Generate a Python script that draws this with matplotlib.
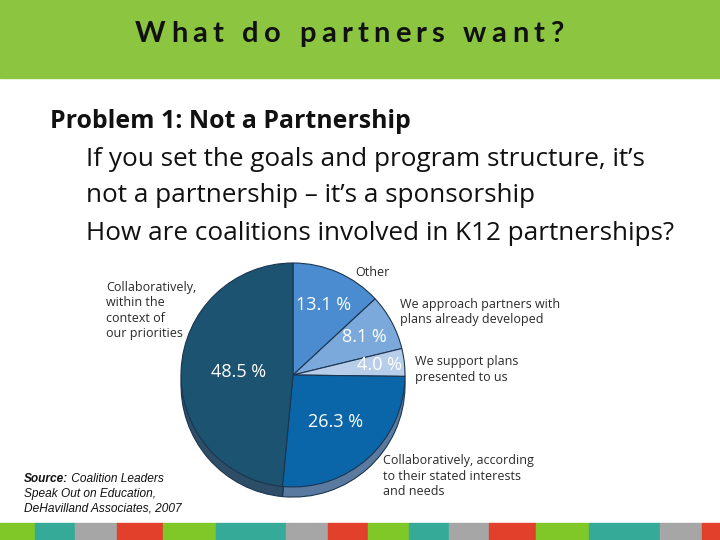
"""
Recreate the 'What do partners want?' slide with the coalition pie chart
"""

import matplotlib
matplotlib.use('Agg')
import matplotlib.pyplot as plt
import numpy as np

#---------------------------------------------------------------------------------------------------
# Data
#---------------------------------------------------------------------------------------------------

title = 'What do partners want?'
body_head = 'Problem 1: Not a Partnership'
body_lines = ["If you set the goals and program structure, it\u2019s",
              "not a partnership \u2013 it\u2019s a sponsorship",
              "How are coalitions involved in K12 partnerships?"]

# Pie slices, clockwise from the top
slice_names = ['Other',
               'We approach partners with\nplans already developed',
               'We support plans\npresented to us',
               'Collaboratively, according\nto their stated interests\nand needs',
               'Collaboratively,\nwithin the\ncontext of\nour priorities']
slice_pct = [13.1, 8.1, 4.0, 26.3, 48.5]

source_bold = 'Source:'
source_lines = [' Coalition Leaders', 'Speak Out on Education,', 'DeHavilland Associates, 2007']

#---------------------------------------------------------------------------------------------------
# Styles
#---------------------------------------------------------------------------------------------------

top_colors = ['#4a8ccf', '#7ba9dc', '#b7cde9', '#0a66a8', '#1b5370']
side_colors = ['#3a6c9c', '#5c82aa', '#8ba0bb', '#5a7aa0', '#2d4e66']
pct_radius = [0.68, 0.72, 0.78, 0.57, 0.49]

green = '#8cc640'
stripe_edges = [0, 35, 75, 117, 163, 216, 286, 328, 368, 409, 449, 489, 536, 589, 660, 702, 720]
stripe_cols = ['#80c828', '#36aa98', '#a6a6a6', '#e2402a']

body_font = 'Open Sans'
label_font = 'Open Sans'
body_y = [160, 195, 233]

#---------------------------------------------------------------------------------------------------
# Make Plot
#---------------------------------------------------------------------------------------------------

fig = plt.figure(figsize=(7.2, 5.4), dpi=100)
renderer = fig.canvas.get_renderer()

# Background axes in pixel coordinates
bg = fig.add_axes([0, 0, 1, 1])
bg.set_xlim(0, 720)
bg.set_ylim(540, 0)
bg.axis('off')


def text_width(t):
    """Width of a text artist in pixels"""
    return t.get_window_extent(renderer=renderer).width


# Header band and letter-spaced title (spans x = 135 to 563)
bg.add_patch(plt.Rectangle((0, 0), 720, 78, color=green, zorder=0))
chars = [bg.text(0, 34, c, ha='left', va='center', fontsize=21, fontweight='bold',
                 family='Lato', color='#111111') for c in title]
widths = [text_width(c) if c.get_text() != ' ' else 8 for c in chars]
track = (563 - 135 - sum(widths)) / (len(chars) - 1)
x = 135
for c, w in zip(chars, widths):
    c.set_x(x)
    x += w + track

# Body text
bg.text(50, 122, body_head, ha='left', va='center', fontsize=17.9, fontweight='bold',
        family=body_font, color='#111111')
for line, y in zip(body_lines, body_y):
    bg.text(86, y, line, ha='left', va='center', fontsize=18.8,
            family=body_font, color='#111111')

# Bottom stripe
for i in range(len(stripe_edges) - 1):
    bg.add_patch(plt.Rectangle((stripe_edges[i], 523), stripe_edges[i+1] - stripe_edges[i], 17,
                               color=stripe_cols[i % 4], zorder=0))

# Pie axes: radius 1 = 112 px, centred at (293, 375)
pax = fig.add_axes([153/720, 25/540, 280/720, 280/540])

# 3D side of the pie
pax.pie(slice_pct, colors=side_colors, startangle=90, counterclock=False, radius=1.0,
        center=(0, -0.09), wedgeprops=dict(edgecolor='#1c3550', linewidth=0.8))

wedges, texts, autotexts = pax.pie(slice_pct, colors=top_colors, startangle=90,
                                   counterclock=False, radius=1.0,
                                   autopct=lambda p: f'{p:.1f} %', pctdistance=0.6,
                                   wedgeprops=dict(edgecolor='#1c3550', linewidth=0.8),
                                   textprops=dict(color='white', fontsize=13,
                                                  family=label_font))
for w, t, r in zip(wedges, autotexts, pct_radius):
    ang = np.deg2rad(0.5 * (w.theta1 + w.theta2))
    t.set_position((r * np.cos(ang), r * np.sin(ang)))
pax.set_xlim(-1.25, 1.25)
pax.set_ylim(-1.25, 1.25)
pax.set_aspect('equal')

# Slice descriptions
lab_kw = dict(ha='left', va='top', fontsize=9, family=label_font, color='#2a2a2a',
              linespacing=1.25)
bg.text(355, 266, slice_names[0], **lab_kw)
bg.text(400, 298, slice_names[1], **lab_kw)
bg.text(415, 355, slice_names[2], **lab_kw)
bg.text(383, 454, slice_names[3], **lab_kw)
bg.text(106, 281, slice_names[4], **lab_kw)

# Source
src_kw = dict(ha='left', va='center', fontsize=8.6, style='italic', family='Liberation Sans',
              color='#111111')
sb = bg.text(24, 479, source_bold, fontweight='bold', **src_kw)
bg.text(24 + text_width(sb), 479, source_lines[0], **src_kw)
for i, line in enumerate(source_lines[1:]):
    bg.text(24, 494 + 14.5 * i, line, **src_kw)

plt.savefig('out.png', dpi=100)
plt.close()
